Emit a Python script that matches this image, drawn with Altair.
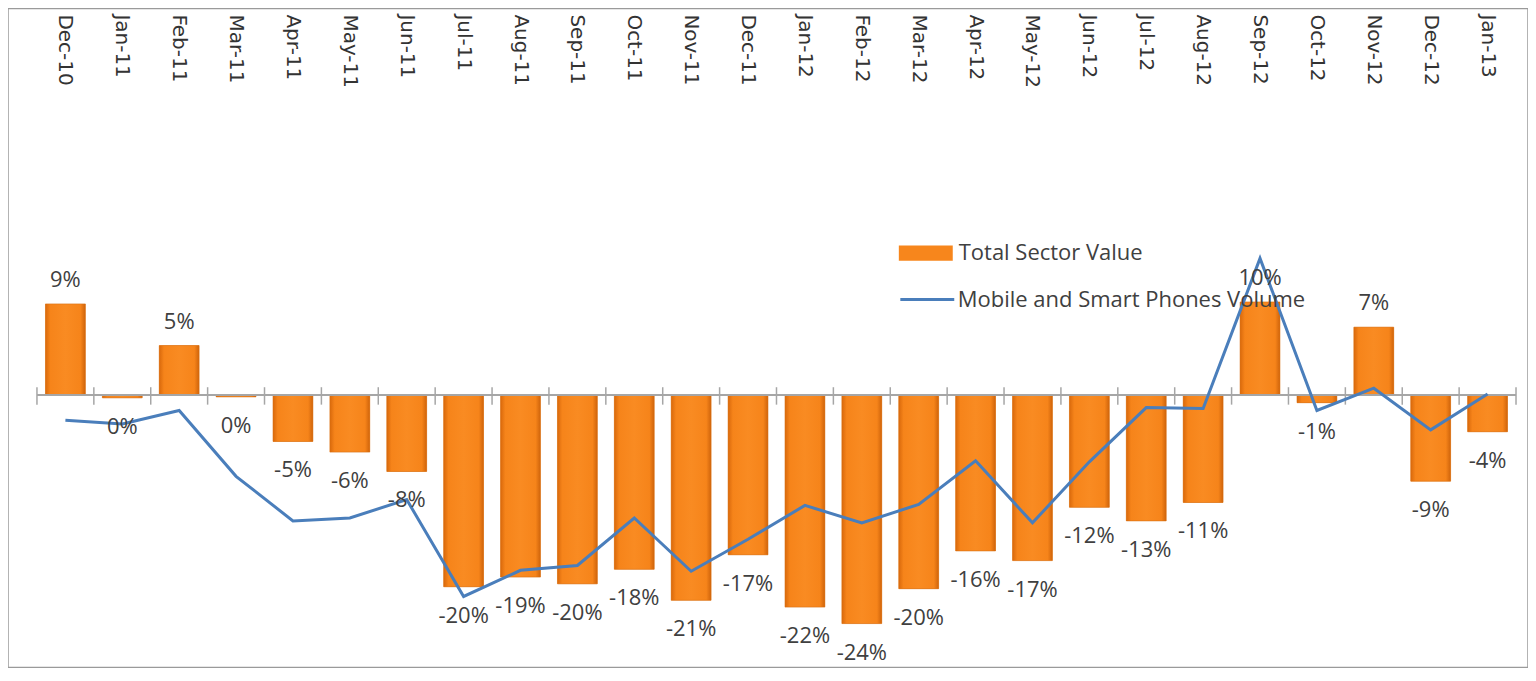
import altair as alt
import pandas as pd

months = ["Dec-10", "Jan-11", "Feb-11", "Mar-11", "Apr-11", "May-11", "Jun-11",
          "Jul-11", "Aug-11", "Sep-11", "Oct-11", "Nov-11", "Dec-11", "Jan-12",
          "Feb-12", "Mar-12", "Apr-12", "May-12", "Jun-12", "Jul-12", "Aug-12",
          "Sep-12", "Oct-12", "Nov-12", "Dec-12", "Jan-13"]

total_sector_value = [9.4, -0.3, 5.1, -0.2, -4.8, -5.9, -7.9,
                      -19.8, -18.8, -19.5, -18.0, -21.2, -16.5, -21.9,
                      -23.6, -20.0, -16.1, -17.1, -11.6, -13.0, -11.1,
                      9.6, -0.8, 7.0, -8.9, -3.8]

mobile_phones_volume = [-2.6, -3.0, -1.6, -8.4, -13.0, -12.7, -10.8,
                        -20.8, -18.1, -17.6, -12.7, -18.2, -14.9, -11.4,
                        -13.2, -11.3, -6.8, -13.2, -6.9, -1.3, -1.4,
                        14.1, -1.6, 0.7, -3.6, 0.1]

bar_labels = ["9%", "0%", "5%", "0%", "-5%", "-6%", "-8%",
              "-20%", "-19%", "-20%", "-18%", "-21%", "-17%", "-22%",
              "-24%", "-20%", "-16%", "-17%", "-12%", "-13%", "-11%",
              "10%", "-1%", "7%", "-9%", "-4%"]

bar_series = "Total Sector Value"
line_series = "Mobile and Smart Phones Volume"

df = pd.DataFrame({
    "month": months,
    "value": total_sector_value,
    "mobile": mobile_phones_volume,
    "label": bar_labels,
})
df["bar_series"] = bar_series
df["line_series"] = line_series

W, H = 1522, 660
X_RANGE = [29, 1510]
Y_DOMAIN = [-28.14, 39.9]

FONT = "Open Sans"
TXT = "#404040"
GRAY = "#A6A6A6"

xscale = alt.Scale(range=X_RANGE, paddingInner=0, paddingOuter=0)
yscale = alt.Scale(domain=Y_DOMAIN, nice=False, zero=False)


def xenc(band=0.5):
    return alt.X("month:N", sort=months, title=None, scale=xscale, axis=None,
                 bandPosition=band)


yenc = alt.Y("value:Q", title=None, axis=None, scale=yscale)

base = alt.Chart(df).transform_calculate(
    zero="0", tick_top="0.8", tick_bot="-1.0", top=str(Y_DOMAIN[1]))

month_labels = base.mark_text(
    angle=90, align="left", baseline="middle", dx=6,
    font="DejaVu Sans", fontSize=20, color="#333333"
).encode(
    x=xenc(),
    y=alt.Y("top:Q", scale=yscale, axis=None),
    text="month:N",
)

zero_rule = base.mark_rule(color=GRAY, strokeWidth=1.5).encode(
    y=alt.Y("zero:Q", scale=yscale, axis=None),
    x=alt.value(X_RANGE[0]), x2=alt.value(X_RANGE[1]))

ticks_left = base.mark_rule(color=GRAY, strokeWidth=1.5).encode(
    x=xenc(0),
    y=alt.Y("tick_top:Q", scale=yscale, axis=None),
    y2="tick_bot:Q")

ticks_right = base.transform_filter(
    "datum.month == 'Jan-13'"
).mark_rule(color=GRAY, strokeWidth=1.5).encode(
    x=xenc(1),
    y=alt.Y("tick_top:Q", scale=yscale, axis=None),
    y2="tick_bot:Q")

bars_legend = base.mark_bar(width=alt.RelativeBandSize(0.7)).encode(
    x=xenc(),
    y=yenc,
    fill=alt.Fill("bar_series:N", scale=alt.Scale(range=["#F7861C"]),
                  legend=alt.Legend(orient="none", legendX=892, legendY=218,
                                    title=None,
                                    symbolType="M-1,-0.28L1,-0.28L1,0.28L-1,0.28Z",
                                    symbolSize=2916, symbolStrokeWidth=0,
                                    labelFont=FONT, labelFontSize=22, labelLimit=0,
                                    labelColor=TXT, labelOffset=6)),
)

gradient = alt.Gradient(
    gradient="linear", x1=0, x2=1, y1=0, y2=0,
    stops=[alt.GradientStop(color="#D9690C", offset=0),
           alt.GradientStop(color="#F6841A", offset=0.12),
           alt.GradientStop(color="#F98B22", offset=0.5),
           alt.GradientStop(color="#F6841A", offset=0.88),
           alt.GradientStop(color="#CF640B", offset=1)])

bars_grad = base.mark_bar(width=alt.RelativeBandSize(0.7), fill=gradient,
                          stroke="#D66F12", strokeWidth=0.6).encode(
    x=xenc(),
    y=yenc,
)

line = base.mark_line(strokeWidth=3).encode(
    x=xenc(),
    y=alt.Y("mobile:Q", title=None, axis=None, scale=yscale),
    stroke=alt.Stroke("line_series:N", scale=alt.Scale(range=["#4A7EBB"]),
                      legend=alt.Legend(orient="none", legendX=892, legendY=263,
                                        title=None, symbolType="stroke",
                                        symbolSize=2916, symbolStrokeWidth=3,
                                        labelFont=FONT, labelFontSize=22, labelLimit=0,
                                        labelColor=TXT, labelOffset=2)),
)

text_neg = base.transform_filter("datum.value < 0").mark_text(
    dy=29, baseline="middle", align="center", font=FONT, fontSize=22, color=TXT
).encode(x=xenc(), y=yenc, text="label:N")

text_pos = base.transform_filter("datum.value >= 0").mark_text(
    dy=-24, baseline="middle", align="center", font=FONT, fontSize=22, color=TXT
).encode(x=xenc(), y=yenc, text="label:N")

chart = alt.layer(
    bars_legend, bars_grad, zero_rule, ticks_left, ticks_right, line,
    text_neg, text_pos, month_labels
).properties(
    width=W, height=H, padding=0
).configure_view(stroke="#9A9A9A", strokeWidth=1.5)

chart.save("out.html", embed_options={"renderer": "svg", "actions": False})
